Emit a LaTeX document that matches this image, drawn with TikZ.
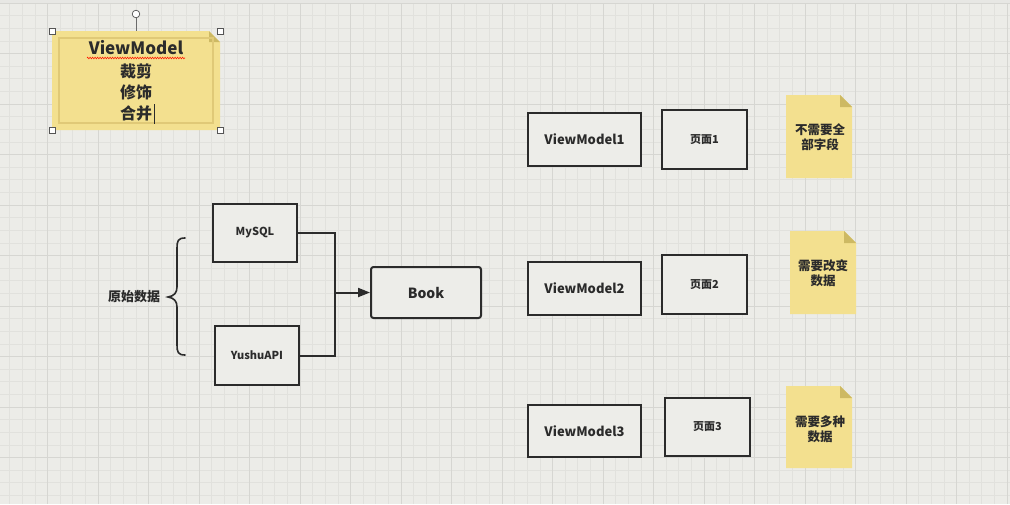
\documentclass[tikz,border=0pt]{standalone}
\usepackage{fontspec}
\setmainfont{Noto Sans CJK SC}
\usetikzlibrary{arrows.meta,decorations.pathmorphing}
\definecolor{bg}{HTML}{ECECE8}
\definecolor{gminor}{HTML}{E1E1DD}
\definecolor{gmajor}{HTML}{D6D6D2}
\definecolor{boxfill}{HTML}{EDEDE9}
\definecolor{ink}{HTML}{2B2B2B}
\definecolor{notefill}{HTML}{F3E08F}
\definecolor{notefold}{HTML}{CDB963}
\definecolor{noteline}{HTML}{E0C977}
\tikzset{
  box/.style={draw=ink, line width=2pt, fill=boxfill, inner sep=0pt, font=\bfseries\fontsize{11}{13}\selectfont, text=ink},
  lbl/.style={inner sep=0pt, font=\bfseries\fontsize{12.5}{16}\selectfont, text=ink, align=center},
  conn/.style={draw=ink, line width=2pt},
  handle/.style={draw=ink!80, line width=0.7pt, fill=white},
}
\begin{document}
\begin{tikzpicture}[x=1pt,y=-1pt]
\useasboundingbox (0,0) rectangle (1010,504);
\fill[bg] (0,0) rectangle (1010,504);
\fill[gminor!80] (0,0) rectangle (1010,3);
% grid
\foreach \i in {-4,...,76} {\draw[gminor, line width=0.6pt] ({47.5+12.625*\i},3) -- ({47.5+12.625*\i},504);}
\foreach \i in {0,...,40} {\draw[gminor, line width=0.6pt] (0,{3+12.625*\i}) -- (1010,{3+12.625*\i});}
\foreach \i in {-1,...,19} {\draw[gmajor, line width=0.8pt] ({47.5+50.5*\i},3) -- ({47.5+50.5*\i},504);}
\foreach \i in {0,...,10} {\draw[gmajor, line width=0.8pt] (0,{3+50.5*\i}) -- (1010,{3+50.5*\i});}

% top-left sticky note
\fill[notefill] (52,31) -- (209,31) -- (220,42) -- (220,130) -- (52,130) -- cycle;
\fill[notefold] (209,31) -- (220,42) -- (209,42) -- cycle;
\draw[noteline, line width=1.2pt] (59,38) rectangle (213,123);
\draw[ink!70, line width=0.7pt] (136,18) -- (136,31);
\draw[handle] (136,14) circle (3.8);
\foreach \p in {(52,31),(220,31),(52,130),(220,130)} {\draw[handle] \p +(-3,-3) rectangle +(3,3);}
\node[inner sep=0pt, font=\bfseries\fontsize{17}{20}\selectfont, text=ink] (vm) at (136,48) {ViewModel};
\draw[red!80!orange, line width=0.6pt, decorate, decoration={zigzag, amplitude=0.8pt, segment length=2.5pt}] (87,58) -- (185,58);
\node[inner sep=0pt, font=\bfseries\fontsize{16}{20}\selectfont, text=ink] (cj) at (136,71) {裁剪};
\node[inner sep=0pt, font=\bfseries\fontsize{16}{20}\selectfont, text=ink] (xs) at (136,92) {修饰};
\node[inner sep=0pt, font=\bfseries\fontsize{16}{20}\selectfont, text=ink] (hb) at (136,113) {合并};
\draw[ink, line width=0.6pt] (154.5,104) -- (154.5,124);

% sources
\node[box, minimum width=84pt, minimum height=58pt] (mysql) at (255,233) {MySQL};
\node[box, minimum width=84pt, minimum height=59pt] (yushu) at (257,355.5) {YushuAPI};
\node[box, rounded corners=2.5pt, minimum width=110pt, minimum height=51pt, font=\bfseries\fontsize{14}{16}\selectfont] (book) at (426,292.5) {Book};
\coordinate (join) at (335,292.5);
\draw[conn] (mysql.east) -| (join);
\draw[conn] (yushu.east) -| (join);
\draw[conn, -{Triangle[length=12pt,width=9pt]}] (join) -- (book.west);

% brace and label
\node[lbl, font=\bfseries\fontsize{13}{16}\selectfont] (ys) at (134,297) {原始数据};
\draw[ink, line width=1.6pt, line cap=round]
  (185,238) .. controls (178,238) and (177,241) .. (177,248)
  -- (177,287) .. controls (177,293) and (174,296) .. (168,297)
  .. controls (174,298) and (177,301) .. (177,307)
  -- (177,345) .. controls (177,352) and (178,355) .. (185,355);

% view models and pages
\node[box, font=\bfseries\fontsize{13}{16}\selectfont, minimum width=113pt, minimum height=53pt] (vm1) at (584.5,139.5) {ViewModel1};
\node[box, font=\bfseries\fontsize{13}{16}\selectfont, minimum width=113pt, minimum height=53pt] (vm2) at (584.5,288.5) {ViewModel2};
\node[box, font=\bfseries\fontsize{13}{16}\selectfont, minimum width=113pt, minimum height=52pt] (vm3) at (584.5,431) {ViewModel3};
\node[box, minimum width=85pt, minimum height=59pt] (p1) at (704.5,139.5) {页面1};
\node[box, minimum width=85pt, minimum height=59pt] (p2) at (704.5,284.5) {页面2};
\node[box, minimum width=85pt, minimum height=58pt] (p3) at (707.5,427) {页面3};

% small notes
\foreach \nx/\ny/\nh in {786/95/83, 790/231/83, 786/386/82} {
  \fill[notefill] (\nx,\ny) -- ({\nx+54},\ny) -- ({\nx+66},{\ny+12}) -- ({\nx+66},{\ny+\nh}) -- (\nx,{\ny+\nh}) -- cycle;
  \fill[notefold] ({\nx+54},\ny) -- ({\nx+66},{\ny+12}) -- ({\nx+54},{\ny+12}) -- cycle;
}
\node[lbl] (n1) at (820,137) {不需要全\\[-1pt]部字段};
\node[lbl] (n2) at (823,273) {需要改变\\[-1pt]数据};
\node[lbl] (n3) at (820,429) {需要多种\\[-1pt]数据};
\end{tikzpicture}
\end{document}
